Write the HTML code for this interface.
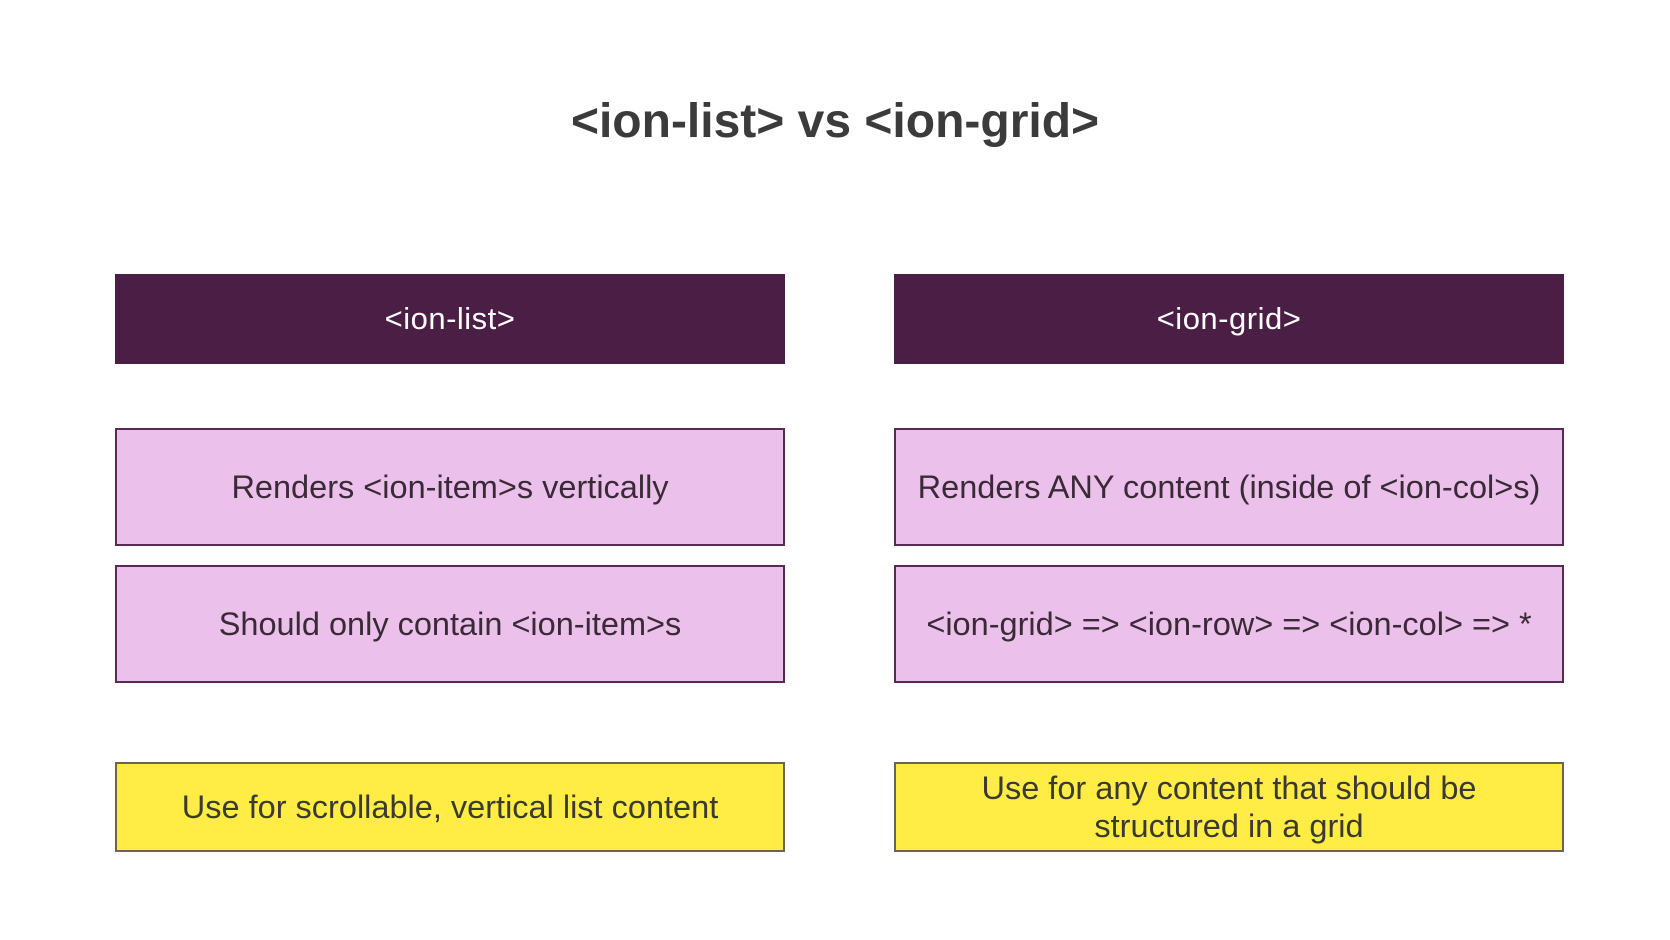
<!DOCTYPE html>
<html><head><style>
body{margin:0;width:1670px;height:940px;background:#fff;position:relative;overflow:hidden;font-family:"Liberation Sans",sans-serif;}
.t{position:absolute;left:0;width:1670px;top:94px;text-align:center;font-size:48px;font-weight:bold;color:#3b3b3b;}
.b{position:absolute;box-sizing:border-box;display:flex;align-items:center;justify-content:center;text-align:center;}
.h{background:#4a1e45;color:#fff;font-size:31px;letter-spacing:0.5px;}
.p{background:#ebc0ea;border:2px solid #5a2a55;color:#3a2a38;font-size:32.5px;}
.y{background:#ffec45;border:2px solid #6a6650;color:#3a3a30;font-size:32.5px;line-height:38px;}
.l{left:115px;width:670px}.r{left:894px;width:670px}
</style></head><body>
<div class="t">&lt;ion-list&gt; vs &lt;ion-grid&gt;</div>
<div class="b h l" style="top:274px;height:90px">&lt;ion-list&gt;</div>
<div class="b h r" style="top:274px;height:90px">&lt;ion-grid&gt;</div>
<div class="b p l" style="top:428px;height:118px">Renders &lt;ion-item&gt;s vertically</div>
<div class="b p r" style="top:428px;height:118px">Renders ANY content (inside of &lt;ion-col&gt;s)</div>
<div class="b p l" style="top:565px;height:118px">Should only contain &lt;ion-item&gt;s</div>
<div class="b p r" style="top:565px;height:118px">&lt;ion-grid&gt; =&gt; &lt;ion-row&gt; =&gt; &lt;ion-col&gt; =&gt; *</div>
<div class="b y l" style="top:762px;height:90px">Use for scrollable, vertical list content</div>
<div class="b y r" style="top:762px;height:90px">Use for any content that should be<br>structured in a grid</div>
</body></html>
